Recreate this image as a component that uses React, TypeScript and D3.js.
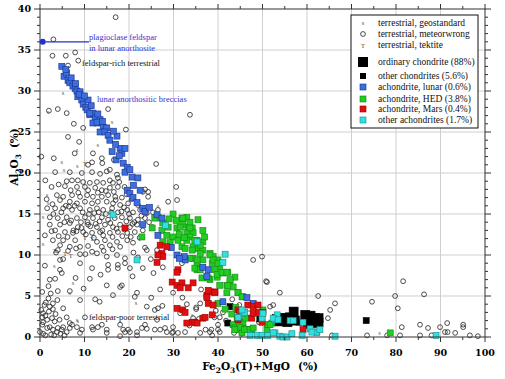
import React from "react";
import * as d3 from "d3";

type P = [number, number];

const xTicks = [0, 10, 20, 30, 40, 50, 60, 70, 80, 90, 100];
const yTicks = [0, 5, 10, 15, 20, 25, 30, 35, 40];

const legendLabels = [
  "terrestrial, geostandard",
  "terrestrial, meteorwrong",
  "terrestrial, tektite",
  "ordinary chondrite (88%)",
  "other chondrites (5.6%)",
  "achondrite, lunar (0.6%)",
  "achondrite, HED (3.8%)",
  "achondrite, Mars (0.4%)",
  "other achondrites (1.7%)",
];

const meteorwrong: P[] = [
  [3,36.3],[17,39],[2.8,34.3],[5.8,34.3],[7.9,34.7],[6.3,33.1],[8.6,33.7],[4,27.8],[6,27.3],[15.3,27.8],[33.7,27.1],[7.6,26],[9.7,25.5],[2,27.6],[6.3,24.4],[8.8,23.8],[11.9,22.4],[11.7,21.3],[13.9,21.8],[14,21.2],[0.3,22],[10.8,21],[6.7,20.1],[9.4,20],[11.7,20.1],[13.5,19.9],[15,20.2],[15.7,20.4],[17.3,19.8],[17.5,19.4],[3.4,20.1],[26.1,21.1],
  [6,19],[7.2,19.1],[8.5,19.1],[9.7,18.9],[11.2,18.8],[12.8,18.9],[14.2,18.8],[15.7,19.1],[16.4,18.8],[17.8,18.9],[5.6,18.4],[8.3,18.3],[10.1,18.3],[12.4,18.2],[13.9,17.9],[15.7,18.2],[17.5,18.3],[23.6,18],[24.3,17.7],[3.8,17.3],[5.2,17.1],[7.2,17.3],[9,17.1],[10.6,17.3],[11.9,17.1],[13.9,17.1],[15.3,17.3],[16.9,17.1],[18.4,17],[19.5,17.4],[4.5,16.7],[6.7,16.5],[8.3,16.3],[10.1,16.5],[11.7,16.3],[13,16.5],[15,16.5],[16.4,16.3],[18,16.1],[19.8,16.3],[1.6,15.7],[3.4,15.7],[5.2,15.7],[7.2,15.5],[9,15.7],[11.2,15.5],[12.8,15.7],[14.2,15.5],[16.2,15.7],[17.5,15.2],[19.6,15.5],[20.9,15.2],[22.5,15.5],[24,15.1],[25.4,15.2],[2.2,14.6],[4,14.5],[6,14.6],[8.3,14.5],[10.1,14.6],[11.9,14.5],[13.9,14.6],[15.3,14.3],[18.4,14.6],[20.2,14.5],[22,14.3],[23.6,14.5],[2.2,13.7],[4.5,13.7],[6.7,13.9],[8.5,13.4],[10.8,13.7],[12.8,13.4],[14.6,13.7],[16.4,13.4],[18,13.7],[20.2,13.4],[21.8,13.7],[3.4,13],[5.6,12.8],[7.4,12.7],[9.7,12.8],[11.7,12.7],[13.5,12.8],[15.7,12.7],[17.5,12.8],[19.6,12.7],[21.3,12.8],[23.1,13],[1.1,12.4],[2.9,11.8],[5.2,11.8],[7.9,11.8],[12.8,11.6],[14.6,11.8],[17.3,11.6],[19.6,11.8],[20.9,11.5],[23.6,10.9],[4.5,11.2],[6.7,11],[9,11],[10.8,11.1],[13.9,11],[15.7,11.2],[18,11],[4,10.6],[9,10.1],[11.7,10.4],[15,9.8],[17.3,10],[19.1,9.6],[4.5,9.4],[5.2,9.5],[9,9],[17.5,8.8],[19.1,9],[20.2,8.4],[23.1,8.4],[1.1,8.7],[4.5,8.2],[4.9,7.8],[11.7,8.4],[15.3,8.8],[49.9,9.8],[47.9,9.4],[51,6.7],[2.2,7],[3.4,7.1],[11.2,7.1],[18,6.1],[15,6.3],[4,5.6],[6.7,5.6],[21.8,5.4],[21.3,4.9],[29.9,5.4],[16.4,5.1],
  [1.5,16.8],[2.8,16.2],[3,15],[4.8,15.2],[6.5,15.9],[7.8,16],[9.6,15.2],[10.7,14],[12.2,15.1],[13.4,14.1],[14.8,15],[16.8,14.5],[17,16.7],[18.9,15.8],[19.4,14.1],[21.2,14],[22.8,14.8],[24.5,14],[25.2,13.4],[26.5,15.5],[28.8,16.5],[30.6,18.3],[30.8,16.7],[26.3,10.6],[24,10.6],[31.9,9],[23.1,17.7],[24.3,17.1],[2.6,12.9],[4.2,12.3],[6.2,12.2],[8.2,12.9],[10.3,12.5],[12.1,12.1],[14.2,12.4],[16.3,12.2],[18.5,12.3],[20.4,12.2],[22.4,12.1],[3.6,10.3],[6.3,10.5],[8.1,10.8],[10.2,10.1],[12.8,10.2],[14.3,10.5],[16.3,10.7],[21,10.3],[22,9.7],[24.9,9.5],[27.6,8.5],[25.5,7.8],[20.8,7.4],[13.6,7.6],[8,7.2],[1.9,6.2],[0.5,5.5],[9.8,5.9],[12.4,4.6],[18.4,6.3],[17.5,8.4],[15.3,8.2],[13.4,4.3],[9,4.5],[27,5.8],[25,4.8],[27.5,3.8],[32,4.8],[35.1,3.6],[36.2,5.8],[39.5,3.2],
  [5.5,14],[7,14.2],[9.2,14],[11,15],[12.5,13.8],[14,13],[15.8,13.9],[17.2,13.2],[19,13.1],[20.8,13.8],[7.5,13],[9.3,13.3],[11.3,13.5],[13.2,15.2],[16,15.2],[18.3,15.3],[20,15],[5.8,16],[8.6,17.6],[10.8,17.9],[13,17.6],[14.8,17.8],[16.6,17.7],[19,18.3],[20.6,16.8],[22,16.1],[6.9,17.9],[4.2,18.6],[2.6,18.3],[1.2,19.1],[3.1,21.8],[7.8,22.4],[16.6,21.6],[19.3,25.3],
  [0,0.6],[0.7,0.4],[1.6,1.1],[2.2,1.2],[2.9,0.9],[3.8,0.6],[4,1.1],[4.9,0.9],[6,0.6],[6.7,1.1],[0.7,1.8],[1.6,2.1],[2.7,2.3],[0.5,1.5],[5.2,1.2],[7.2,1.5],[8.3,1.2],[9,0.5],[10.1,2.4],[11.9,0.9],[13,1.2],[15,0.5],[18,0.1],[19.1,0.6],[19.8,0.9],[21.8,0.2],[22.9,1.1],[24,1],[26.3,2.1],[27,0.9],[28.5,0.6],[29.9,0.6],[31,0.5],[31.5,2.9],[36,0.5],[38.2,0.6],[40.4,0.6],[24,3.7],[26.5,3.5],[2.9,4.1],[2.2,3.7],[5.2,3.5],[2.9,3.4],[6,2.4],[6.7,1.7],[13.9,1.5],[11.7,1.2],[15,0.9],[9.4,0.9],[18,1.5],[18.7,0.9],[20.2,0.6],[21.8,0.6],[23.6,1.5],[25.8,3.3],[28.1,1.1],[29.9,1.2],[29.7,0.5],[32.6,0.6],[38.7,0.2],[40,0.9],[25.8,0.9],[40.4,2.4],[0.7,2.9],[0.5,2.4],[1.2,2.6],[3.3,1.9],[4.4,2.1],[3.5,2.8],[2,3.1],[1.2,0.2],[2.5,0.3],[3.2,0.2],[4.6,0.4],[5.5,0.2],[1,3.9],[0.3,3.3],[1.9,4.7],[3.9,4.5],[2.4,5.3],[1.3,4.2],
  [52.4,3.9],[65.2,3.3],[64.7,2.3],[66.3,4.1],[73.5,0.2],[74.6,4.3],[80.4,3.5],[81.3,1.2],[80.9,0.2],[85.4,1.5],[87.2,1.1],[88,0.2],[89.9,1.2],[91.5,1.7],[91,0.6],[91.6,0.6],[93.3,0.5],[95.1,1.2],[95.1,1.5],[96.6,0.2],[98.4,0.1],[78,0.2],[53.9,5.4],[62.5,5],[79.8,5],[81.6,6.8],[86.3,5.2],[85.4,0.2],[61.1,2.8],[65.6,0.2],[51.7,3.7],[50.8,6.8],[33,4],[35.1,3.4],[34.4,2.3],[36,4.1],[41.1,3],[41.8,2],[40,1.5],[38.5,0.9],[37.2,0.9],[49.2,1.8],[46.9,2.9],[43.2,4.6],[44.8,3.9],[47.1,2.3],[45.3,0.4],[39.2,2.4],[33.6,1.4],[35.7,2.2],[43.6,0.5]
];

const geostandard: P[] = [
  [5.2,29.8],[16.2,26.2],[1.8,27.4],[8.3,22.8],[13,23.4],[4.9,21.4],[5.4,20.4],[8.4,20.9],[1.6,17.3],[1.8,16.3],[0.7,14.6],[0.7,11.3],[7.4,6.6],[8.5,2],[6.7,5.4],[34.2,2.7],[76.3,0.5],[8.3,2.1],[26.5,16],[32.8,14.8],[3.2,8.6],[21.6,4.2]
];

const tektite: P[] = [
  [10.1,21.2],[5.6,10.2],[6.9,10],[10.1,12.1],[11.7,12],[26.8,14.4],[3.3,10.6]
];

const ordinary: P[] = [
  [53.2,2.2],[54.2,2.3],[55.2,2.3],[56.2,2.4],[56.5,2.0],[57.0,3.1],[53.6,1.9],[55.6,1.8],[59.8,2.1],[60.8,2.6],[61.8,2.3],[62.6,1.8],[62.6,2.3],[60.2,1.6],[61.4,1.7],[59.6,2.7]
];

const otherChondrites: P[] = [
  [42.7,3.7],[42.2,1.7],[49.4,2.2],[73.3,2.0],[58.2,1.8],[57.6,2.2]
];

const lunar: P[] = [
  [4.9,33.0],[5.4,31.8],[6,32.2],[6.3,31.3],[6.7,31],[7.4,30.6],[7.9,30.3],[8.3,30],[9,29.9],[8.5,29.3],[9.4,28.9],[9.7,28.4],[10.8,28.9],[10.3,28],[10.6,27.7],[11.2,27.1],[11.9,27.3],[12.4,26.7],[13.5,26.5],[12.8,26.1],[14.2,25.6],[15,25.5],[11.2,27.3],[11.9,26.1],[12.8,26.2],[13.5,25],[14.6,25],[15.3,24.6],[15.7,24],[17.3,24.5],[16.2,22.6],[18,23],[18.4,22.4],[19.1,23],[17.1,21.6],[18.7,21.2],[19.6,20.7],[19.1,20.1],[20.2,20.4],[20.7,19.5],[22,19.4],[19.6,17.9],[20.2,17.5],[20.9,17],[22.5,17.9],[23.1,15.7],[23.6,15.3],[26.3,14.9],[27.4,14.5],[23.1,13.7],[26.5,12.4],[30.8,10],[32.6,9.4],[36.6,8.5],[37.8,8.2],[37.5,7.4],[32.4,9.8],[47.9,4.1],[41.1,4.3],[46.5,4.8],[5.8,32.6],[7,31.6],[8,30.9],[8.8,29.6],[10,29.4],[11.5,28.2],[13,27.2],[14,26.3],[16.5,25.1],[17,23.5],[17.8,22.1],[21,18.5],[21.8,16.4],[24.6,15.8],[29.5,10.9],[31.3,9.6]
];

const hed: P[] = [
  [26.5,14.6],[29.9,15],[31.9,14.5],[33,14.6],[27.6,13.9],[28.8,13.4],[27.4,13],[30.8,13.3],[32.1,13.7],[33.3,13.4],[34.2,13.3],[33,12.8],[34.4,12.7],[33.7,12.2],[35.3,11.8],[25.2,13.3],[22.9,12.2],[28.5,12.4],[29.9,12.2],[27.6,11.6],[29.2,11.5],[31,11.8],[33,11.8],[31.9,11],[34.4,11],[35.5,10.8],[36.6,10.6],[36,10.2],[38.2,10.2],[38.9,9.8],[34.4,9.6],[35.3,9],[36.6,9.4],[38.7,9],[40,9.4],[40.4,8.5],[39.3,8.2],[41.1,7.8],[39.8,7.3],[42.2,7.9],[43.8,7.3],[42.7,6.7],[42,6.3],[43.4,6.1],[42,5.4],[44.5,5.4],[45.6,4.9],[35.3,8.2],[36.4,7.2],[38.2,7],[35.5,14.3],[33.7,14],[25.8,14.5],[36.6,13],[36.6,11.6],[37,12.2],
  [32.1,14.5],[31.5,13.4],[33.7,13.3],[34.8,11.8],[36,11.2],[32.6,10.8],[34.2,10.6],[38.2,10],[38.9,9.4],[40,9],[33.7,9.6],[35.3,9.4],[34.8,8.4],[36,8.2],[37.8,7.2],[39.8,7.6],[40.9,7.9],[42,7.9],[42.7,7],[42.2,6.3],[40.4,6.3],[44.5,5.4],[45.4,4.9],[40,4.1],[41.6,3.4],[44.3,2.1],[44.9,1.7],[43.4,1.5],[45.6,1.2],[44.5,0.9],[46.5,0.9],[47.6,0.9],[45.4,0.5],[43.8,1.1],[44.5,2.4],[45.6,1.8],[51,0.9],[51.2,1.5],[52.1,1.7],[78.7,0.5],[44.9,1.2],[46,0.9],[47.2,0.9],[47.9,1.1],[43.8,0.9],[49.9,2.7],[50.1,3.3],[51.7,1.5],[45,3],[44,3.6],[43.1,2.8],[46.2,2.3],[30.6,14.2],[29,14.4],[31.3,12.5],[32.4,12.1]
];

const mars: P[] = [
  [19.1,13.3],[27,11.2],[27.4,10.2],[27.6,9.8],[26.5,10],[28.5,11],[26.3,9.1],[31,8.2],[29.7,6.7],[30.8,6.3],[31.9,6.6],[31.5,6],[33.3,6],[38.2,5.5],[39.3,5.5],[37.5,5.1],[30.8,7.9],[34.4,6.6],[39.3,5.4],[30.8,3.5],[32.1,3.3],[34.2,1.8],[34.8,1.8],[33,1.7],[36.6,2.3],[37.8,4.1],[38.9,3.9],[37.5,4.8],[38.7,2.7],[32.6,3],[35.3,1.7],[37.1,2.4],[44.5,3.3],[46.7,3.9],[47.9,3.7],[49,3.9],[50.1,3],[59.1,0.9],[62.2,0.6],[37.8,5.7],[44.9,3],[44.5,2.1],[47.6,2.3],[47.9,2.9],[49.2,3],[49.9,1.8]
];

const otherAch: P[] = [
  [16.4,14.9],[21.8,9.4],[35.3,11.6],[41.6,10.1],[41.1,9.1],[45.6,2.9],[49.9,2.3],[52.8,2.1],[56.2,2],[56.9,2],[47.2,0.2],[48.8,0.2],[49.9,0.2],[51.2,0.2],[52.8,0.5],[53.9,0.1],[54.6,0],[55.5,0],[56.6,0.4],[58.9,0.2],[60.7,1],[62.2,0.6],[62.9,0.9],[66.3,0.1],[89,0.2],[44.5,2.4],[46,3],[52.4,0.5],[53.3,2.7],[45.4,3.3],[50.1,2.9],[52.4,2.3],[53.5,2.1],[59.1,1.8],[61.1,0.6],[28.2,13.6]
];

const W = 505, H = 379;
const x = d3.scaleLinear().domain([0, 100]).range([40, 485]);
const y = d3.scaleLinear().domain([0, 40]).range([337, 9]);

const serif = "'DejaVu Serif', serif";
const lserif = "'Liberation Serif', serif";

function Sq({ p, s, fill, stroke }: { p: P; s: number; fill: string; stroke: string }) {
  return <rect x={x(p[0]) - s / 2} y={y(p[1]) - s / 2} width={s} height={s} fill={fill} stroke={stroke} strokeWidth={0.6} />;
}

export default function App() {
  const minorX = d3.range(5, 100, 10);
  const minorY = d3.range(0, 41, 1).filter((v) => v % 5 !== 0);
  const [x0, x1] = x.range();
  const [y0, y1] = y.range();
  const lx = 363, tx = 378;
  const rows = [23, 34, 45, 62, 76, 87, 99, 109, 120];
  return (
    <svg width={W} height={H} style={{ position: "absolute", left: 0, top: 0, background: "#fff" }}>
      {xTicks.slice(1, -1).map((t) => (
        <line key={"gx" + t} x1={x(t)} x2={x(t)} y1={y1} y2={y0} stroke="#cfcfcf" strokeWidth={1} />
      ))}
      {yTicks.slice(1, -1).map((t) => (
        <line key={"gy" + t} x1={x0} x2={x1} y1={y(t)} y2={y(t)} stroke="#cfcfcf" strokeWidth={1} />
      ))}
      {meteorwrong.map((p, i) => (
        <circle key={"c" + i} cx={x(p[0])} cy={y(p[1])} r={2.4} fill="none" stroke="#222" strokeWidth={0.8} />
      ))}
      {geostandard.map((p, i) => (
        <text key={"s" + i} x={x(p[0])} y={y(p[1]) + 2} fontSize={6.5} fontFamily={lserif} textAnchor="middle" fill="#555">s</text>
      ))}
      {tektite.map((p, i) => (
        <text key={"t" + i} x={x(p[0])} y={y(p[1]) + 2.5} fontSize={6.5} fontFamily={lserif} textAnchor="middle" fill="#444">T</text>
      ))}
      {ordinary.map((p, i) => <Sq key={"o" + i} p={p} s={9} fill="#000" stroke="#000" />)}
      {otherChondrites.map((p, i) => <Sq key={"oc" + i} p={p} s={6} fill="#000" stroke="#000" />)}
      {hed.map((p, i) => <Sq key={"h" + i} p={p} s={6} fill="#22cc22" stroke="#138a13" />)}
      {lunar.map((p, i) => <Sq key={"l" + i} p={p} s={6} fill="#3b6fe0" stroke="#1a2f8a" />)}
      {mars.map((p, i) => <Sq key={"m" + i} p={p} s={6} fill="#e01010" stroke="#a00000" />)}
      {otherAch.map((p, i) => <Sq key={"a" + i} p={p} s={6} fill="#33e0e0" stroke="#138a8a" />)}

      <rect x={x0} y={y1} width={x1 - x0} height={y0 - y1} fill="none" stroke="#333" strokeWidth={1} />
      {xTicks.map((t) => (
        <g key={"tx" + t}>
          <line x1={x(t)} x2={x(t)} y1={y0} y2={y0 + 5} stroke="#333" />
          <line x1={x(t)} x2={x(t)} y1={y1} y2={y1 - 5} stroke="#333" />
          <text x={x(t)} y={356} fontSize={9.5} fontWeight="bold" fontFamily={serif} textAnchor="middle">{t}</text>
        </g>
      ))}
      {minorX.map((t) => (
        <g key={"mx" + t}>
          <line x1={x(t)} x2={x(t)} y1={y0} y2={y0 + 3} stroke="#333" />
          <line x1={x(t)} x2={x(t)} y1={y1} y2={y1 - 3} stroke="#333" />
        </g>
      ))}
      {yTicks.map((t) => (
        <g key={"ty" + t}>
          <line x1={x0} x2={x0 - 6} y1={y(t)} y2={y(t)} stroke="#333" />
          <line x1={x1} x2={x1 + 6} y1={y(t)} y2={y(t)} stroke="#333" />
          <text x={31} y={y(t)} dy="0.35em" fontSize={9.5} fontWeight="bold" fontFamily={serif} textAnchor="end">{t}</text>
        </g>
      ))}
      {minorY.map((t) => (
        <g key={"my" + t}>
          <line x1={x0} x2={x0 - 3} y1={y(t)} y2={y(t)} stroke="#333" />
          <line x1={x1} x2={x1 + 3} y1={y(t)} y2={y(t)} stroke="#333" />
        </g>
      ))}
      <text x={260} y={370} fontSize={10.5} fontWeight="bold" fontFamily={serif} textAnchor="middle">
        Fe<tspan fontSize={7.5} dy={3}>2</tspan><tspan dy={-3}>O</tspan><tspan fontSize={7.5} dy={3}>3</tspan><tspan dy={-3}>(T)+MgO</tspan><tspan dx={8}>(%)</tspan>
      </text>
      <text transform="translate(18,157) rotate(-90)" fontSize={10.5} fontWeight="bold" fontFamily={serif} textAnchor="middle">
        Al<tspan fontSize={7.5} dy={3}>2</tspan><tspan dy={-3}>O</tspan><tspan fontSize={7.5} dy={3}>3</tspan><tspan dy={-3} dx={6}>(%)</tspan>
      </text>

      <line x1={x(0)} x2={x(11)} y1={y(36)} y2={y(36)} stroke="#2233cc" strokeWidth={1.3} />
      <circle cx={x(0.6)} cy={y(36)} r={3} fill="#2233cc" />
      <text x={89} y={40} fontSize={8.5} fontFamily={lserif} fill="#3333cc">plagioclase feldspar</text>
      <text x={89} y={51} fontSize={8.5} fontFamily={lserif} fill="#3333cc">in lunar anorthosite</text>
      <text x={82} y={66} fontSize={8.5} fontFamily={lserif} fill="#111">feldspar-rich terrestrial</text>
      <text x={97} y={102} fontSize={8.5} fontFamily={lserif} fill="#3333cc">lunar anorthositic breccias</text>
      <text x={89} y={320} fontSize={8.5} fontFamily={lserif} fill="#111">feldspar-poor terrestrial</text>

      <rect x={351} y={15} width={127} height={113} fill="#fff" stroke="#111" strokeWidth={1} />
      <text x={lx} y={rows[0] + 2} fontSize={6.5} fontFamily={lserif} textAnchor="middle" fill="#555">s</text>
      <circle cx={lx} cy={rows[1]} r={2.4} fill="none" stroke="#222" strokeWidth={0.8} />
      <text x={lx} y={rows[2] + 2.5} fontSize={6.5} fontFamily={lserif} textAnchor="middle" fill="#444">T</text>
      <rect x={lx - 5} y={rows[3] - 5} width={10} height={10} fill="#000" />
      <rect x={lx - 3} y={rows[4] - 3} width={6} height={6} fill="#000" />
      <rect x={lx - 3} y={rows[5] - 3} width={6} height={6} fill="#3b6fe0" stroke="#1a2f8a" strokeWidth={0.6} />
      <rect x={lx - 3} y={rows[6] - 3} width={6} height={6} fill="#22cc22" stroke="#138a13" strokeWidth={0.6} />
      <rect x={lx - 3} y={rows[7] - 3} width={6} height={6} fill="#e01010" stroke="#a00000" strokeWidth={0.6} />
      <rect x={lx - 3} y={rows[8] - 3} width={6} height={6} fill="#33e0e0" stroke="#138a8a" strokeWidth={0.6} />
      {legendLabels.map((l, i) => (
        <text key={"lg" + i} x={tx} y={rows[i]} dy="0.35em" fontSize={9.5} fontFamily={lserif} fill="#111">{l}</text>
      ))}
    </svg>
  );
}
